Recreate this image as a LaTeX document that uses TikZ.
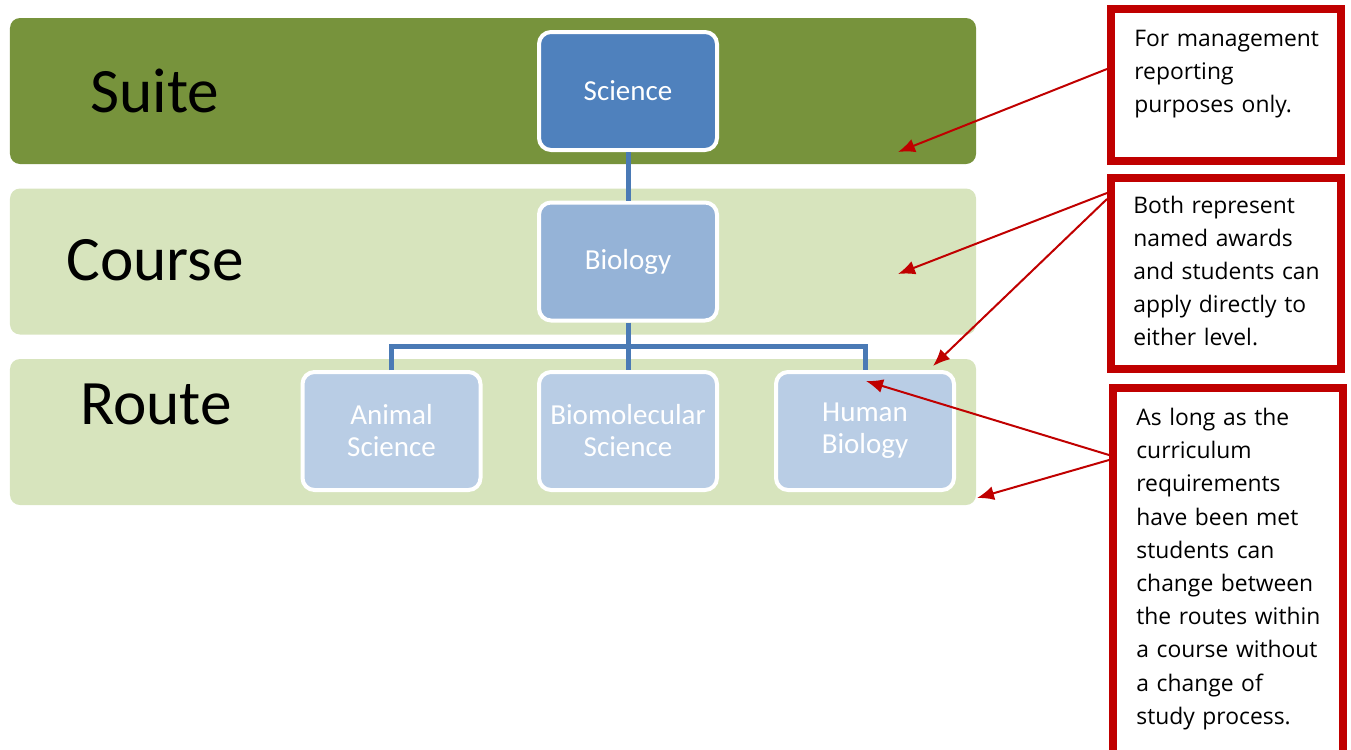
\documentclass[tikz,border=0pt]{standalone}
\usepackage{fontspec}
\setmainfont{Carlito}
\newfontfamily\notefont{Open Sans}
\usetikzlibrary{positioning}
\usetikzlibrary{arrows.meta}
\definecolor{suitegreen}{HTML}{77933C}
\definecolor{lightgreen}{HTML}{D7E4BD}
\definecolor{darkblue}{HTML}{4F81BD}
\definecolor{midblue}{HTML}{95B3D7}
\definecolor{paleblue}{HTML}{B9CDE5}
\definecolor{linkblue}{HTML}{4A7AB5}
\definecolor{notered}{HTML}{C00000}

\begin{document}
\begin{tikzpicture}[
  band/.style={fill=#1,rounded corners=0.2cm,minimum width=19.32cm,minimum height=2.92cm,inner sep=0},
  unit/.style={fill=#1,draw=white,line width=0.08cm,rounded corners=0.24cm,minimum width=3.56cm,minimum height=2.36cm,text=white,align=center,font=\fontsize{16.5}{18.2}\selectfont},
  level/.style={anchor=base west,inner sep=0,font=\fontsize{36}{40}\selectfont},
  note/.style={draw=notered,line width=0.16cm,minimum width=4.6cm,anchor=north west,inner sep=0},
  notetext/.style={anchor=base west,inner sep=0,text width=4cm,align=left,font=\notefont\fontsize{13}{18.9}\selectfont},
  link/.style={draw=linkblue,line width=0.1cm},
  pointer/.style={draw=notered,line width=0.04cm,-{Latex[length=3.4mm,width=2.8mm]}}
]
\useasboundingbox (0,0) rectangle (27.02,-14.98);
\clip (0,0) rectangle (27.02,-14.98);

% levels
\node[band=suitegreen] (suite) at (9.86,-1.82) {};
\node[band=lightgreen] (course) at (9.86,-5.23) {};
\node[band=lightgreen] (route) at (9.86,-8.64) {};
\node[level] (suitelbl) at (1.8,-2.24) {Suite};
\node[level] (courselbl) at (1.32,-5.6) {Course};
\node[level] (routelbl) at (1.6,-8.48) {Route};

% hierarchy
\node[unit=darkblue] (sci) at (12.56,-1.82) {Science};
\node[unit=midblue] (bio) at (12.56,-5.23) {Biology};
\node[unit=paleblue] (mol) at (12.56,-8.62) {Biomolecular\\Science};
\node[unit=paleblue] (ani) at (7.83,-8.62) {Animal\\Science};
\node[unit=paleblue] (hum) at (17.30,-8.62) {Human\\Biology};
\coordinate (bar) at (12.56,-6.92);

\draw[link] (sci.south) -- (bio.north);
\draw[link] (bio.south) -- (bar);
\draw[link] (ani.north) |- (bar) -| (hum.north);
\draw[link] (bar) -- (mol.north);

% notes
\node[note,minimum height=3.04cm] (note1) at (22.14,-0.10) {};
\node[note,minimum height=3.82cm] (note2) at (22.14,-3.48) {};
\node[note,minimum height=7.64cm] (note3) at (22.18,-7.68) {};
\node[notetext] (text1) at (22.68,-0.92) {For management\\reporting\\purposes only.};
\node[notetext] (text2) at (22.66,-4.26) {Both represent\\named awards\\and students can\\apply directly to\\either level.};
\node[notetext] (text3) at (22.72,-8.51) {As long as the\\curriculum\\requirements\\have been met\\students can\\change between\\the routes within\\a course without\\a change of\\study process.};

\coordinate (tip1) at (17.96,-3.04);
\coordinate (tip2) at (17.96,-5.48);
\coordinate (tip3) at (18.66,-7.32);
\coordinate (tip4) at (17.32,-7.62);
\coordinate (tip5) at (19.54,-9.96);

\draw[pointer] ([yshift=-1.28cm]note1.north west) -- (tip1);
\draw[pointer] ([yshift=-0.38cm]note2.north west) -- (tip2);
\draw[pointer] ([yshift=-0.5cm]note2.north west) -- (tip3);
\draw[pointer] ([yshift=-1.42cm]note3.north west) -- (tip4);
\draw[pointer] ([yshift=-1.52cm]note3.north west) -- (tip5);

\end{tikzpicture}
\end{document}
